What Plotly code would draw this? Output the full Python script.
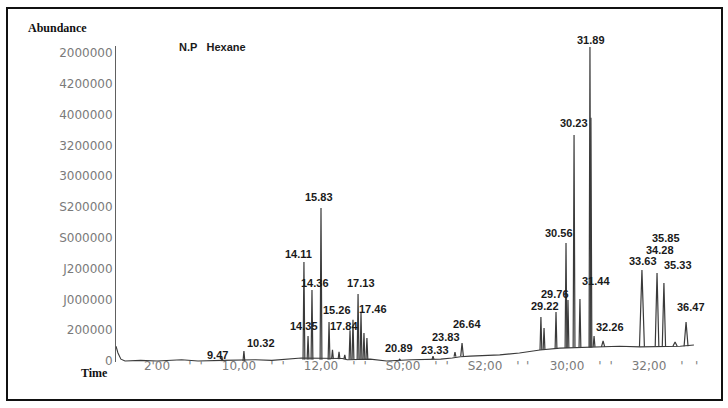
import plotly.graph_objects as go

# ---------------- DATA ----------------
# baseline of the chromatogram: time (min) / abundance
base_time = [2.50, 2.62, 2.80, 3.05, 4.0, 5.0, 6.5, 7.5, 9.0, 11.0, 12.0, 13.0, 13.8,
             16.3, 16.6, 18.0, 19.0, 20.5, 22.3, 23.0, 23.5, 24.1, 25.9, 27.1, 28.35,
             29.57, 32.0, 33.2, 34.45, 36.9, 37.74]
base_abund = [240000, 130000, 30000, 0, 10000, 0, 20000, 0, 10000, 20000, 10000, 30000, 50000,
              40000, 20000, 30000, 0, 20000, 30000, 50000, 70000, 80000, 100000, 130000, 180000,
              210000, 230000, 240000, 230000, 240000, 260000]

# peaks: apex time (min), apex abundance, foot abundance
peak_time = [8.96, 10.30, 13.96, 14.21, 14.45, 15.00, 15.49, 15.70, 16.10, 16.45,
             16.77, 16.95, 17.26, 17.44, 17.62, 17.80, 19.80, 21.83, 23.17, 23.60,
             28.41, 28.60, 29.33, 29.94, 30.06, 30.43, 30.79, 31.40, 31.46, 31.65,
             32.20, 34.57, 35.49, 35.91, 36.59, 37.26]
peak_top = [65000, 162000, 1607000, 406000, 1153000, 2484000, 633000, 180000, 150000, 100000,
            500000, 670000, 1088000, 779000, 455000, 373000, 30000, 80000, 146000, 292000,
            714000, 536000, 795000, 1916000, 990000, 3669000, 1006000, 5097000, 3950000, 406000,
            325000, 1477000, 1429000, 1266000, 308000, 633000]
peak_foot = [0, 0, 20000, 20000, 20000, 20000, 20000, 30000, 30000, 30000,
             30000, 30000, 30000, 30000, 30000, 30000, 10000, 30000, 70000, 80000,
             180000, 180000, 200000, 210000, 210000, 220000, 220000, 220000, 220000, 230000,
             230000, 230000, 240000, 240000, 240000, 240000]

# peak labels (retention times) and the peak each belongs to
label_text = ["9.47", "10.32", "14.11", "14.35", "14.36", "15.83", "15.26", "17.84", "17.13",
              "17.46", "20.89", "23.33", "23.83", "26.64", "29.22", "29.76", "30.56", "30.23",
              "31.89", "31.44", "32.26", "33.63", "34.28", "35.85", "35.33", "36.47"]
label_peak = [8.96, 10.30, 13.96, 14.21, 14.45, 15.00, 15.49, 16.77, 17.26,
              17.44, 19.80, 21.83, 23.17, 23.60, 28.41, 29.33, 29.94, 30.43,
              31.40, 31.65, 32.20, 34.57, 35.49, 35.91, 35.91, 37.26]

# axis ticks as printed
x_tick_vals = [5, 10, 15, 20, 25, 30, 35]
x_tick_text = ["2'00", "10,00", "12,00", "S0;00", "S2;00", "30;00", "32;00"]
x_minor_vals = [7.0, 7.7, 12.0, 12.7, 17.0, 17.7, 22.0, 22.7, 27.0, 27.6, 32.0, 32.7, 37.0, 37.9]
y_tick_vals = [0, 500000, 1000000, 1500000, 2000000, 2500000, 3000000, 3500000,
               4000000, 4500000, 5000000]
y_tick_text = ["0", "200000", "J000000", "J200000", "S000000", "S200000", "3000000",
               "3200000", "4000000", "4200000", "2000000"]

# ---------------- STYLE ----------------
PEAK_HW = 0.055
WIDE_PEAKS = {32.20: 0.10, 34.57: 0.15, 35.49: 0.11, 35.91: 0.10, 36.59: 0.13, 37.26: 0.12,
              23.60: 0.08}
LABEL_SHIFT = [(-4, 2), (17, 8), (-5, 8), (-4, 10), (3, 7), (-2, 11), (8, 12), (-6, 4), (3, 11),
               (12, 4), (-1, 11), (2, 6), (-9, 15), (5, 19), (4, 11), (-1, 18), (-7, 10), (0, 12),
               (1, 7), (2, 55), (7, 14), (1, 9), (3, 23), (2, 45), (14, 18), (5, 15)]
LINE_COLOR = "#3a3a3a"
TICK_COLOR = "#7a7a7a"

fig = go.Figure()
fig.add_trace(go.Scatter(x=base_time, y=base_abund, mode="lines",
                         line=dict(color=LINE_COLOR, width=1.1), hoverinfo="skip",
                         showlegend=False))

px_, py_ = [], []
for t, top, foot in zip(peak_time, peak_top, peak_foot):
    hw = WIDE_PEAKS.get(t, PEAK_HW)
    px_ += [t - hw, t, t + hw, None]
    py_ += [foot, top, foot, None]
fig.add_trace(go.Scatter(x=px_, y=py_, mode="lines",
                         line=dict(color=LINE_COLOR, width=1.2), hoverinfo="skip",
                         showlegend=False))

top_by_time = dict(zip(peak_time, peak_top))
for txt, pt, (dx, dy) in zip(label_text, label_peak, LABEL_SHIFT):
    fig.add_annotation(x=pt, y=top_by_time[pt], text=txt, showarrow=False,
                       xshift=dx, yshift=dy, xanchor="center", yanchor="middle",
                       font=dict(family="Liberation Sans, Arial", size=11, color="#1a1a1a",
                                 weight="bold"))

tickvals = x_tick_vals + x_minor_vals
ticktext = x_tick_text + ["'"] * len(x_minor_vals)

fig.update_layout(
    width=728, height=408,
    margin=dict(l=116, r=28, t=46, b=46, autoexpand=False),
    paper_bgcolor="white", plot_bgcolor="white",
    showlegend=False,
    xaxis=dict(range=[2.5, 38.11], showgrid=False, zeroline=False, showline=False,
               ticks="", tickvals=tickvals, ticktext=ticktext, tickangle=0,
               tickfont=dict(family="DejaVu Sans", size=12, color=TICK_COLOR),
               ticklabelstandoff=-5, automargin=False),
    yaxis=dict(range=[-16000, 5114000], showgrid=False, zeroline=False, showline=True,
               linecolor="#606060", linewidth=1, ticks="",
               tickvals=y_tick_vals, ticktext=y_tick_text, automargin=False,
               tickfont=dict(family="DejaVu Sans", size=12, color=TICK_COLOR)),
)

# outer frame
fig.add_shape(type="rect", xref="paper", yref="paper",
              x0=(7 - 116) / 584, x1=(722 - 116) / 584,
              y0=(362 - 400) / 316, y1=(362 - 8) / 316,
              line=dict(color="#111111", width=2), fillcolor="rgba(0,0,0,0)")

fig.add_annotation(xref="paper", yref="paper", x=(57 - 116) / 584, y=(362 - 28) / 316,
                   text="Abundance", showarrow=False, xanchor="center", yanchor="middle",
                   font=dict(family="Liberation Serif, Times New Roman", size=12,
                             color="#111111", weight="bold"))
fig.add_annotation(xref="paper", yref="paper", x=(94 - 116) / 584, y=(362 - 373) / 316,
                   text="Time", showarrow=False, xanchor="center", yanchor="middle",
                   font=dict(family="Liberation Serif, Times New Roman", size=12,
                             color="#111111", weight="bold"))
fig.add_annotation(xref="paper", yref="paper", x=(177 - 116) / 584, y=(362 - 47) / 316,
                   text="N.P&nbsp;&nbsp;&nbsp;Hexane", showarrow=False, xanchor="left",
                   yanchor="middle",
                   font=dict(family="Liberation Sans, Arial", size=11, color="#1a1a1a",
                             weight="bold"))

fig.write_html("out.html",
               config={"displayModeBar": False, "staticPlot": True},
               post_script="document.body.style.margin='0';document.body.style.overflow='hidden';")
